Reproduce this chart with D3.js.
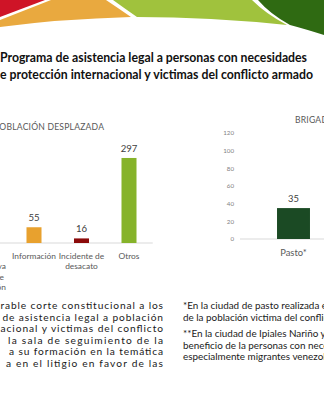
<!DOCTYPE html>
<html>
<head>
<meta charset="utf-8">
<script src="https://cdn.jsdelivr.net/npm/d3@7"></script>
<style>
html,body{margin:0;padding:0;background:#fff;overflow:hidden;}
svg{display:block;font-family:Lato,"Open Sans",sans-serif;}
</style>
</head>
<body>
<svg id="c" width="324" height="400"></svg>
<script>
// ---- data ----
const titleLines = ["Programa de asistencia legal a personas con necesidades",
                    "e protección internacional y victimas del conflicto armado"];
const leftTitle = "POBLACIÓN DESPLAZADA";
const leftCategories = ["Tutela preventiva acción de protección", "Información", "Incidente de desacato", "Otros"];
const leftLabelLines = [["Tutela", "preventiva", "acción de", "protección"], ["Información"], ["Incidente de", "desacato"], ["Otros"]];
const leftValues = [120, 55, 16, 297];
const leftColors = ["#2e6b12", "#e8a12e", "#8b0a0a", "#86b32a"];

const rightTitle = "BRIGADAS JURÍDICAS";
const rightCategories = ["Pasto*", "Ipiales**"];
const rightValues = [35, 98];
const rightTicks = [0, 20, 40, 60, 80, 100, 120];

const leftText = ["rable corte constitucional a los",
                  "de asistencia legal a población",
                  "acional y victimas del conflicto",
                  "la sala de seguimiento de la",
                  "a su formación en la temática",
                  "a en el litigio en favor de las"];
const leftTextStart = [0.5, 2.5, 0.5, 8, 9, 6];
const rightText1 = ["*En la ciudad de pasto realizada en beneficio",
                    "de la población victima del conflicto armado"];
const rightText2 = ["**En la ciudad de Ipiales Nariño y",
                    "beneficio de la personas con necesidades",
                    "especialmente migrantes venezolanos"];

const svg = d3.select("#c");

// ---- top decoration ----
const deco = svg.append("g");
deco.append("path").attr("d", "M0,0 L45,0 L0,17 Z").attr("fill", "#cf1427");
deco.append("path").attr("d", "M51,0 L106,0 Q118,8 131,17 Q60,19 0,27 L0,20 Z").attr("fill", "#e9a93f");
deco.append("path").attr("d", "M113,0 L252,0 Q266,14 287,25 Q210,17 137,17 Q124,8 113,0 Z").attr("fill", "#a0c23d");
deco.append("path").attr("d", "M258,0 L324,0 L324,35 Q305,29 290,25 Q270,14 258,0 Z").attr("fill", "#2f6a12");

// ---- title ----
svg.append("g").selectAll("text").data(titleLines).join("text")
  .attr("x", 0).attr("y", (d, i) => 62 + i * 17)
  .attr("font-size", 13).attr("font-weight", 700).attr("fill", "#111")
  .attr("textLength", (d, i) => [307, 313][i]).attr("lengthAdjust", "spacingAndGlyphs")
  .text(d => d);

// ---- left chart ----
const xL = d3.scaleBand().domain(leftCategories).range([-37.25, 152.75]).paddingInner(0.684).paddingOuter(0.342);
const yL = d3.scaleLinear().domain([0, 350]).range([243, 142.8]);
const gL = svg.append("g");
gL.append("text").attr("x", -6).attr("y", 130).attr("font-size", 8.6).attr("fill", "#595959")
  .attr("letter-spacing", 0.2).text(leftTitle);
gL.append("line").attr("x1", xL.range()[0]).attr("x2", xL.range()[1])
  .attr("y1", yL(0)).attr("y2", yL(0)).attr("stroke", "#d9d9d9").attr("stroke-width", 1);
gL.selectAll("rect").data(leftCategories).join("rect")
  .attr("x", d => xL(d)).attr("width", xL.bandwidth())
  .attr("y", (d, i) => yL(leftValues[i])).attr("height", (d, i) => yL(0) - yL(leftValues[i]))
  .attr("fill", (d, i) => leftColors[i]);
gL.selectAll("text.v").data(leftCategories).join("text").attr("class", "v")
  .attr("x", d => xL(d) + xL.bandwidth() / 2).attr("y", (d, i) => yL(leftValues[i]) - 6)
  .attr("text-anchor", "middle").attr("font-size", 9.6).attr("fill", "#404040")
  .text((d, i) => leftValues[i]);
const labL = gL.selectAll("text.c").data(leftCategories).join("text").attr("class", "c")
  .attr("text-anchor", "middle").attr("font-size", 8.4).attr("fill", "#595959");
labL.each(function (d, i) {
  const cx = xL(d) + xL.bandwidth() / 2;
  d3.select(this).selectAll("tspan").data(leftLabelLines[i]).join("tspan")
    .attr("x", cx).attr("y", (t, j) => 259 + j * 10.4).text(t => t);
});

// ---- right chart ----
const xR = d3.scaleBand().domain(rightCategories).range([240, 454]).paddingInner(0.692).paddingOuter(0.346);
const yR = d3.scaleLinear().domain([0, 120]).range([239, 133]);
const gR = svg.append("g");
gR.append("text").attr("x", 295).attr("y", 123).attr("font-size", 8.6).attr("fill", "#595959")
  .attr("letter-spacing", 0.2).text(rightTitle);
const axR = d3.axisLeft(yR).tickValues(rightTicks).tickSize(0).tickPadding(0);
const ga = gR.append("g").attr("transform", "translate(234,0)").call(axR);
ga.select(".domain").remove();
ga.selectAll("text").attr("font-size", 6.2).attr("fill", "#7f7f7f").attr("font-family", "Lato,sans-serif");
gR.append("line").attr("x1", 240).attr("x2", 324).attr("y1", yR(0)).attr("y2", yR(0))
  .attr("stroke", "#d9d9d9").attr("stroke-width", 1);
gR.selectAll("rect").data(rightCategories).join("rect")
  .attr("x", d => xR(d)).attr("width", xR.bandwidth())
  .attr("y", (d, i) => yR(rightValues[i])).attr("height", (d, i) => yR(0) - yR(rightValues[i]))
  .attr("fill", "#1b4a24");
gR.selectAll("text.v").data(rightCategories).join("text").attr("class", "v")
  .attr("x", d => xR(d) + xR.bandwidth() / 2).attr("y", (d, i) => yR(rightValues[i]) - 6)
  .attr("text-anchor", "middle").attr("font-size", 9.4).attr("fill", "#404040")
  .text((d, i) => rightValues[i]);
gR.selectAll("text.c").data(rightCategories).join("text").attr("class", "c")
  .attr("x", d => xR(d) + xR.bandwidth() / 2).attr("y", 256)
  .attr("text-anchor", "middle").attr("font-size", 9.4).attr("fill", "#595959")
  .text(d => d);

// ---- body text ----
svg.append("g").selectAll("text").data(leftText).join("text")
  .attr("x", (d, i) => leftTextStart[i]).attr("y", (d, i) => 309 + i * 11.6)
  .attr("font-size", 10.2).attr("fill", "#1a1a1a")
  .attr("textLength", (d, i) => 163 - leftTextStart[i]).attr("lengthAdjust", "spacing")
  .text(d => d);
svg.append("g").selectAll("text").data(rightText1).join("text")
  .attr("x", 183).attr("y", (d, i) => 309 + i * 11.6)
  .attr("font-size", 9.9).attr("fill", "#1a1a1a").text(d => d);
svg.append("g").selectAll("text").data(rightText2).join("text")
  .attr("x", 183).attr("y", (d, i) => 337 + i * 11.6)
  .attr("font-size", 9.9).attr("fill", "#1a1a1a").text(d => d);
</script>
</body>
</html>
